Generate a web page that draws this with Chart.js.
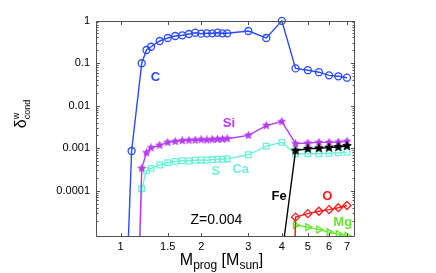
<!DOCTYPE html>
<html>
<head>
<meta charset="utf-8">
<script src="https://cdn.jsdelivr.net/npm/chart.js@4/dist/chart.umd.min.js"></script>
<style>
  html, body { margin: 0; padding: 0; background: #fff; }
  #wrap { width: 436px; height: 273px; position: relative; }
</style>
</head>
<body>
<div id="wrap"><canvas id="c" width="436" height="273"></canvas></div>
<script>
// ---------------- DATA ----------------
const xTickValues = [1, 1.5, 2, 3, 4, 5, 6, 7];
const xTickLabels = ['1', '1.5', '2', '3', '4', '5', '6', '7'];
const yTickValues = [0.0001, 0.001, 0.01, 0.1, 1];
const yTickLabels = ['0.0001', '0.001', '0.01', '0.1', '1'];

const massC  = [1.05, 1.1, 1.2, 1.25, 1.3, 1.4, 1.5, 1.6, 1.7, 1.8, 1.9, 2.0, 2.1, 2.2, 2.3, 2.4, 2.5, 3.0, 3.5, 4.0, 4.5, 5.0, 5.5, 6.0, 6.5, 7.0];
const deltaC = [3.2e-7, 8.6e-4, 0.099, 0.203, 0.242, 0.33, 0.388, 0.432, 0.449, 0.482, 0.517, 0.49, 0.5, 0.5, 0.517, 0.5, 0.5, 0.567, 0.388, 0.98, 0.075, 0.068, 0.061, 0.0515, 0.0489, 0.0453];

const massSi  = [1.15, 1.2, 1.25, 1.3, 1.4, 1.5, 1.6, 1.7, 1.8, 1.9, 2.0, 2.1, 2.2, 2.3, 2.4, 2.5, 3.0, 3.5, 4.0, 4.5, 5.0, 5.5, 6.0, 6.5, 7.0];
const deltaSi = [3e-8, 3.36e-4, 7.8e-4, 1.02e-3, 1.17e-3, 1.37e-3, 1.44e-3, 1.5e-3, 1.53e-3, 1.55e-3, 1.58e-3, 1.56e-3, 1.6e-3, 1.62e-3, 1.63e-3, 1.67e-3, 2.0e-3, 3.4e-3, 4.2e-3, 1.28e-3, 1.32e-3, 1.37e-3, 1.37e-3, 1.39e-3, 1.45e-3];

const massSCa  = [1.15, 1.2, 1.25, 1.3, 1.4, 1.5, 1.6, 1.7, 1.8, 1.9, 2.0, 2.1, 2.2, 2.3, 2.4, 2.5, 3.0, 3.5, 4.0, 4.5, 5.0, 5.5, 6.0, 6.5, 7.0];
const deltaSCa = [3.4e-8, 1.12e-4, 2.95e-4, 3.36e-4, 4.04e-4, 4.58e-4, 4.9e-4, 5.1e-4, 5.0e-4, 5.2e-4, 5.3e-4, 5.2e-4, 5.4e-4, 5.5e-4, 5.5e-4, 5.6e-4, 7.0e-4, 1.12e-3, 1.37e-3, 7.4e-4, 7.4e-4, 7.4e-4, 7.6e-4, 7.8e-4, 8.1e-4];

const massFe  = [4.0, 4.5, 5.0, 5.5, 6.0, 6.5, 7.0];
const deltaFe = [3e-6, 8.8e-4, 9.7e-4, 1.0e-3, 1.03e-3, 1.07e-3, 1.13e-3];

const massO  = [4.0, 4.5, 5.0, 5.5, 6.0, 6.5, 7.0];
const deltaO = [1e-20, 2.4e-5, 2.9e-5, 3.3e-5, 3.6e-5, 4.0e-5, 4.5e-5];

const massMg  = [4.0, 4.5, 5.0, 5.5, 6.0, 6.5, 7.0];
const deltaMg = [1e-20, 1.56e-5, 1.4e-5, 1.22e-5, 1.07e-5, 9.6e-6, 8.7e-6];

const labelTexts = ['C', 'Si', 'S', 'Ca', 'Fe', 'O', 'Mg'];
const labelMass  = [1.35, 2.54, 2.27, 2.81, 3.91, 5.91, 6.75];
const labelDelta = [0.046, 3.84e-3, 2.9e-4, 3.13e-4, 7.3e-5, 7.5e-5, 1.84e-5];
const noteText = 'Z=0.004';
const noteMass = 2.28, noteDelta = 2.0e-5;

const xTitleParts = ['M', 'prog', ' [M', 'sun', ']'];
const yTitleParts = ['δ', 'w', 'cond'];

// ---------------- STYLE ----------------
const FONT = '"Liberation Sans", Arial, Helvetica, sans-serif';
const colC = '#2a4bff', colSi = '#b43cf0', colSCa = '#6ff0d6', colFe = '#000000', colO = '#ff1a1a', colMg = '#66e62e';
const labelColors = [colC, colSi, colSCa, colSCa, colFe, colO, colMg];
const axisColor = '#505050';

function starCanvas(color, size) {
  const c = document.createElement('canvas');
  c.width = size; c.height = size;
  const g = c.getContext('2d');
  const cx = size / 2, cy = size / 2, R = size / 2 - 0.5, r = R * 0.45;
  g.beginPath();
  for (let i = 0; i < 10; i++) {
    const a = -Math.PI / 2 + i * Math.PI / 5;
    const rr = i % 2 ? r : R;
    g.lineTo(cx + rr * Math.cos(a), cy + rr * Math.sin(a));
  }
  g.closePath();
  g.fillStyle = color; g.fill();
  g.strokeStyle = color; g.lineWidth = 0.8; g.stroke();
  return c;
}

function xy(ms, ds) { return ms.map((m, i) => ({ x: m, y: ds[i] })); }

// minor y ticks (2..9 x 10^k) for the visible decades
const yMinor = [];
[1e-5, 1e-4, 1e-3, 1e-2, 1e-1].forEach(d => { for (let k = 2; k <= 9; k++) yMinor.push(k * d); });

function lineDs(label, data, color, style, extra) {
  return Object.assign({
    label, data, borderColor: color, backgroundColor: 'rgba(0,0,0,0)',
    borderWidth: 1.4, pointBorderWidth: 1.3, pointStyle: style, pointRadius: 3.5,
    pointBorderColor: color, pointBackgroundColor: 'rgba(0,0,0,0)',
    showLine: true, tension: 0, clip: 0
  }, extra || {});
}

const decorPlugin = {
  id: 'decor',
  afterDatasetsDraw(chart) {
    const { ctx, chartArea: a, scales: { x, y } } = chart;
    ctx.save();
    // frame
    ctx.strokeStyle = axisColor; ctx.lineWidth = 1;
    const L = Math.round(a.left) + 0.5, R = Math.round(a.right) - 0.5;
    const T = Math.round(a.top) + 0.5, B = Math.round(a.bottom) - 0.5;
    ctx.beginPath();
    ctx.rect(L, T, R - L, B - T);
    ctx.stroke();
    // x ticks (bottom & top, inward)
    ctx.beginPath();
    xTickValues.forEach(v => {
      const px = Math.round(x.getPixelForValue(v)) + 0.5;
      ctx.moveTo(px, B); ctx.lineTo(px, B - 3.5);
      ctx.moveTo(px, T); ctx.lineTo(px, T + 3.5);
    });
    // y ticks major & minor (left & right, inward)
    y.ticks.forEach(t => {
      const isMajor = yTickValues.some(v => Math.abs(Math.log10(v) - Math.log10(t.value)) < 1e-6);
      const len = isMajor ? 3.5 : 2;
      const py = Math.round(y.getPixelForValue(t.value)) + 0.5;
      ctx.moveTo(L, py); ctx.lineTo(L + len, py);
      ctx.moveTo(R, py); ctx.lineTo(R - len, py);
    });
    ctx.stroke();

    // series labels
    ctx.textAlign = 'center'; ctx.textBaseline = 'middle';
    ctx.font = 'bold 13px ' + FONT;
    labelTexts.forEach((t, i) => {
      ctx.fillStyle = labelColors[i];
      ctx.fillText(t, x.getPixelForValue(labelMass[i]), y.getPixelForValue(labelDelta[i]));
    });
    ctx.font = '14px ' + FONT; ctx.fillStyle = '#000';
    ctx.fillText(noteText, x.getPixelForValue(noteMass), y.getPixelForValue(noteDelta));

    // x axis title with subscripts
    ctx.textAlign = 'left'; ctx.textBaseline = 'alphabetic';
    const bigX = '16px ' + FONT, smallX = '12px ' + FONT;
    const partsFont = [bigX, smallX, bigX, smallX, bigX];
    const partsDy = [0, 4, 0, 4, 0];
    let tw = 0;
    xTitleParts.forEach((p, i) => { ctx.font = partsFont[i]; tw += ctx.measureText(p).width; });
    let cx = (a.left + a.right) / 2 - tw / 2 - 4;
    const baseX = 265;
    xTitleParts.forEach((p, i) => {
      ctx.font = partsFont[i];
      ctx.fillText(p, cx, baseX + partsDy[i]);
      cx += ctx.measureText(p).width;
    });

    // y axis title (rotated) δ^w_cond
    ctx.save();
    ctx.translate(26, 114);
    ctx.rotate(-Math.PI / 2);
    ctx.font = '16px ' + FONT;
    const wD = ctx.measureText(yTitleParts[0]).width;
    ctx.font = '9px ' + FONT;
    const wC = ctx.measureText(yTitleParts[2]).width;
    const x0 = -(wD + wC) / 2;
    ctx.font = '16px ' + FONT; ctx.fillStyle = '#000';
    ctx.fillText(yTitleParts[0], x0, 0);
    ctx.font = '9px ' + FONT;
    ctx.fillText(yTitleParts[1], x0 + wD, -7);
    ctx.fillText(yTitleParts[2], x0 + wD, 3.5);
    ctx.restore();

    ctx.restore();
  }
};

Chart.defaults.font.family = FONT;
Chart.defaults.color = '#000';

new Chart(document.getElementById('c'), {
  type: 'scatter',
  data: {
    datasets: [
      lineDs('Fe', xy(massFe, deltaFe), colFe, starCanvas(colFe, 10)),
      lineDs('C', xy(massC, deltaC), colC, 'circle', { clip: { left: 0, right: 6, top: 6, bottom: 0 } }),
      lineDs('Si', xy(massSi, deltaSi), colSi, starCanvas(colSi, 9)),
      lineDs('S, Ca', xy(massSCa, deltaSCa), colSCa, 'rect', { pointRadius: 4 }),
      lineDs('O', xy(massO, deltaO), colO, 'rectRot', { pointRadius: 4 }),
      lineDs('Mg', xy(massMg, deltaMg), colMg, 'triangle', { pointRadius: 4, pointRotation: 90 })
    ]
  },
  options: {
    responsive: false,
    animation: false,
    devicePixelRatio: 1,
    events: [],
    layout: { padding: { top: 20.5, right: 81, left: 0, bottom: 0 } },
    plugins: { legend: { display: false }, tooltip: { enabled: false } },
    scales: {
      x: {
        type: 'logarithmic', position: 'bottom', min: 0.81, max: 7.5, bounds: 'data',
        grid: { display: false, drawTicks: false }, border: { display: false },
        afterBuildTicks: s => { s.ticks = xTickValues.map(v => ({ value: v })); },
        afterFit: s => { s.height = 36; },
        ticks: {
          autoSkip: false, maxRotation: 0, minRotation: 0, padding: 3,
          font: { size: 11, family: FONT }, color: '#000',
          callback: v => { const i = xTickValues.findIndex(t => Math.abs(t - v) < 1e-9); return i >= 0 ? xTickLabels[i] : ''; }
        }
      },
      y: {
        type: 'logarithmic', position: 'left', min: 8.2e-6, max: 1, bounds: 'data',
        grid: { display: false, drawTicks: false }, border: { display: false },
        afterBuildTicks: s => { s.ticks = yTickValues.concat(yMinor).sort((a, b) => a - b).map(v => ({ value: v })); },
        afterFit: s => { s.width = 96; },
        ticks: {
          autoSkip: false, padding: 6,
          font: { size: 11, family: FONT }, color: '#000',
          callback: v => { const i = yTickValues.findIndex(t => Math.abs(Math.log10(t) - Math.log10(v)) < 1e-6); return i >= 0 ? yTickLabels[i] : ''; }
        }
      }
    }
  },
  plugins: [decorPlugin]
});
</script>
</body>
</html>
